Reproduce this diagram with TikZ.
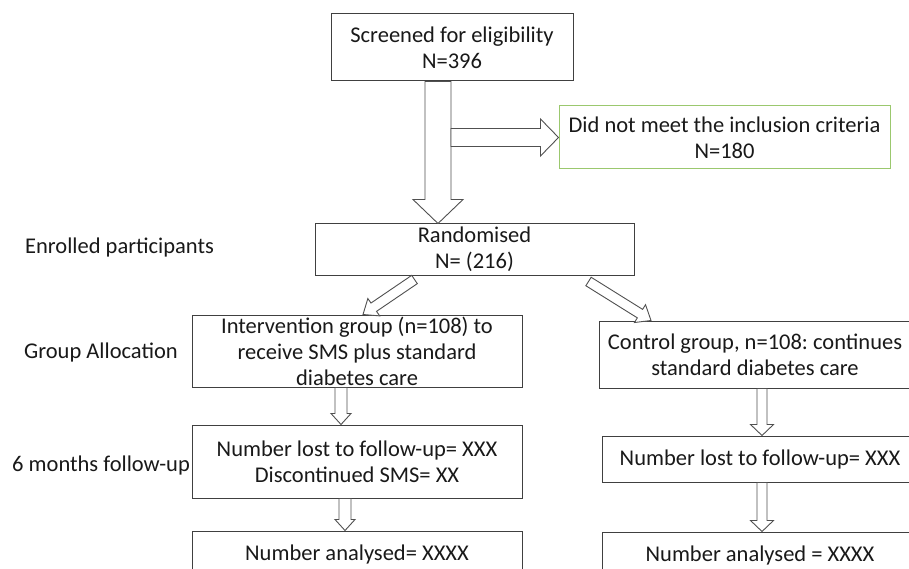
\documentclass[tikz,border=0pt]{standalone}
\usepackage{fontspec}
\setmainfont{Carlito}
\usetikzlibrary{calc, positioning}
\definecolor{boxline}{RGB}{64, 64, 64}
\definecolor{arrowline}{RGB}{80, 80, 80}
\definecolor{green1}{RGB}{155, 200, 110}

\tikzset{
  flowbox/.style={draw=boxline, line width=1pt, fill=white, align=center, inner sep=0pt,
    font=\fontsize{22.5}{26}\selectfont, text=black!90},
  sidelabel/.style={anchor=west, inner sep=0pt, font=\fontsize{22.5}{26}\selectfont, text=black!90},
  blockarrow/.style={draw=arrowline, line width=0.9pt, fill=white, line join=miter}
}

% tail, tip, shaft half width, head half width, head length
\newcommand{\blockarrow}[5]{%
  \coordinate (ba-neck) at ($(#2)!#5!(#1)$);
  \draw[blockarrow] ($(#1)!#3!90:(#2)$) -- ($(ba-neck)!#3!90:(#2)$) -- ($(ba-neck)!#4!90:(#2)$)
    -- (#2) -- ($(ba-neck)!#4!-90:(#2)$) -- ($(ba-neck)!#3!-90:(#2)$) -- ($(#1)!#3!-90:(#2)$) -- cycle;
}

\begin{document}
\begin{tikzpicture}[x=1pt, y=-1pt]
  \clip (0,0) rectangle (909,569);
  \fill[white] (0,0) rectangle (909,569);

  % boxes
  \node[flowbox, minimum width=242pt, minimum height=67pt] (screen) at (452,47.5) {Screened for eligibility\\N=396};
  \node[flowbox, draw=green1, minimum width=331pt, minimum height=63pt] (exclude) at (724.5,137.5) {Did not meet the inclusion criteria\\N=180};
  \node[flowbox, minimum width=319pt, minimum height=51pt] (rand) at (474.5,249.5) {Randomised\\N= (216)};
  \node[flowbox, minimum width=330pt, minimum height=72pt] (inter) at (357,351) {Intervention group (n=108) to\\receive SMS plus standard\\diabetes care};
  \node[flowbox, minimum width=330pt, minimum height=73pt] (interfu) at (357,461.5) {Number lost to follow-up= XXX\\Discontinued SMS= XX};
  \node[flowbox, minimum width=330pt, minimum height=46pt] (interan) at (357,554) {Number analysed= XXXX};
  \node[flowbox, minimum width=312pt, minimum height=67pt] (ctrl) at (755,354.5) {Control group, n=108:\ continues\\standard diabetes care};
  \node[flowbox, minimum width=316pt, minimum height=46pt] (ctrlfu) at (760,459) {Number lost to follow-up= XXX};
  \node[flowbox, minimum width=316pt, minimum height=46pt] (ctrlan) at (760,555) {Number analysed = XXXX};

  % stage labels
  \node[sidelabel] (enrolled) at (25,248) {Enrolled participants};
  \node[sidelabel] (alloc) at (24,352) {Group Allocation};
  \node[sidelabel] (followup) at (12,465) {6 months follow-up};

  % arrows
  \coordinate (downtail) at ([xshift=-14pt]screen.south);
  \coordinate (downtip) at (downtail |- rand.north);
  \coordinate (sidetail) at ([xshift=13pt]downtail |- exclude.west);
  \blockarrow{downtail}{downtip}{13pt}{25pt}{24pt}
  \blockarrow{sidetail}{exclude.west}{9pt}{18.5pt}{18pt}

  \coordinate (lefttail) at ([xshift=-60pt, yshift=-4pt]rand.south);
  \coordinate (lefttip) at ([xshift=6pt]inter.north);
  \coordinate (righttail) at ([xshift=114pt, yshift=-6pt]rand.south);
  \coordinate (righttip) at ([xshift=-104pt]ctrl.north);
  \blockarrow{lefttail}{lefttip}{5pt}{10.5pt}{13pt}
  \blockarrow{righttail}{righttip}{5pt}{10.5pt}{13pt}

  \coordinate (i1) at ([xshift=-16pt]inter.south);
  \coordinate (i2) at (i1 |- interfu.north);
  \coordinate (i3) at ([xshift=-12pt]interfu.south);
  \coordinate (i4) at (i3 |- interan.north);
  \blockarrow{i1}{i2}{6pt}{10pt}{11pt}
  \blockarrow{i3}{i4}{6pt}{10pt}{11pt}

  \coordinate (c1) at ([xshift=7pt]ctrl.south);
  \coordinate (c2) at (c1 |- ctrlfu.north);
  \coordinate (c3) at ([xshift=2pt]ctrlfu.south);
  \coordinate (c4) at (c3 |- ctrlan.north);
  \blockarrow{c1}{c2}{5pt}{11.5pt}{11pt}
  \blockarrow{c3}{c4}{5pt}{11.5pt}{11pt}
\end{tikzpicture}
\end{document}
